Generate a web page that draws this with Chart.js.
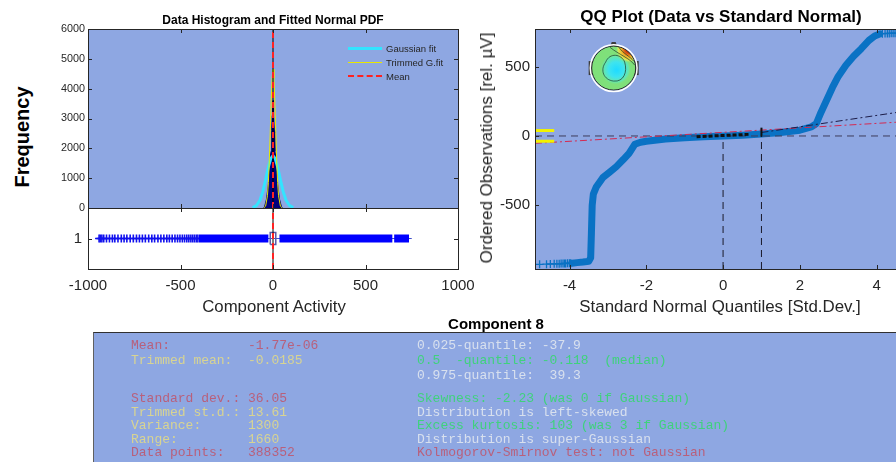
<!DOCTYPE html>
<html>
<head>
<meta charset="utf-8">
<script src="https://cdn.jsdelivr.net/npm/chart.js"></script>
<style>
  body { margin: 0; width: 896px; height: 462px; overflow: hidden; background: #fff; position: relative;
         font-family: "Liberation Sans", Arial, sans-serif; color: #262626; }
  canvas { position: absolute; }
  .t { position: absolute; white-space: nowrap; transform: translate(-50%, -50%); }
  .rot { transform: translate(-50%, -50%) rotate(-90deg); }
  .legend { position: absolute; left: 348px; top: 41px; font-size: 9.5px; color: #262626; }
  .legend div { height: 14px; display: flex; align-items: center; }
  .legend i { display: inline-block; width: 34px; margin-right: 4px; }
  .stats { position: absolute; left: 93px; top: 332px; width: 820px; height: 140px; background: #8ea7e2;
           border-top: 1px solid #303030; border-left: 1px solid #606060; }
  .stats div { position: absolute; white-space: pre; font-family: "Liberation Mono", "Courier New", monospace;
               font-size: 13px; line-height: 14px; }
  .red { color: #b8607c; }
  .yel { color: #d8d492; }
  .lt { color: #d8e0ee; }
  .grn { color: #3fd27c; }
</style>
</head>
<body>

<canvas id="hist" width="430" height="190" style="left:40px; top:24px;"></canvas>
<canvas id="box" width="460" height="110" style="left:40px; top:208px;"></canvas>
<canvas id="qq" width="440" height="294" style="left:470px; top:24px;"></canvas>

<div class="t" style="left:273px; top:20px; font-weight:bold; font-size:12px; color:#000;">Data Histogram and Fitted Normal PDF</div>
<div class="t rot" style="left:22px; top:137px; font-weight:bold; font-size:20px; color:#000;">Frequency</div>
<div class="t" style="left:274px; top:307px; font-size:16.8px;">Component Activity</div>

<div class="t" style="left:721px; top:17px; font-weight:bold; font-size:17px; color:#000;">QQ Plot (Data vs Standard Normal)</div>
<div class="t rot" style="left:487px; top:148px; font-size:17px;">Ordered Observations [rel. µV]</div>
<div class="t" style="left:720px; top:307px; font-size:16.9px;">Standard Normal Quantiles [Std.Dev.]</div>

<div class="legend">
  <div><i style="border-top:3px solid #33e4ff;"></i>Gaussian fit</div>
  <div><i style="border-top:1px solid #e8e800;"></i>Trimmed G.fit</div>
  <div><i style="border-top:2px dashed #ff2020;"></i>Mean</div>
</div>

<div class="t" style="left:496px; top:323px; font-weight:bold; font-size:15px; color:#000;">Component 8</div>

<div class="stats">
  <div class="red" style="left:37px; top:6px;">Mean:          -1.77e-06</div>
  <div class="yel" style="left:37px; top:21px;">Trimmed mean:  -0.0185</div>
  <div class="red" style="left:37px; top:59px;">Standard dev.: 36.05</div>
  <div class="yel" style="left:37px; top:73px;">Trimmed st.d.: 13.61</div>
  <div class="yel" style="left:37px; top:86px;">Variance:      1300</div>
  <div class="yel" style="left:37px; top:100px;">Range:         1660</div>
  <div class="red" style="left:37px; top:113px;">Data points:   388352</div>

  <div class="lt"  style="left:323px; top:6px;">0.025-quantile: -37.9</div>
  <div class="grn" style="left:323px; top:21px;">0.5  -quantile: -0.118  (median)</div>
  <div class="lt"  style="left:323px; top:36px;">0.975-quantile:  39.3</div>
  <div class="grn" style="left:323px; top:59px;">Skewness: -2.23 (was 0 if Gaussian)</div>
  <div class="lt"  style="left:323px; top:73px;">Distribution is left-skewed</div>
  <div class="grn" style="left:323px; top:86px;">Excess kurtosis: 103 (was 3 if Gaussian)</div>
  <div class="lt"  style="left:323px; top:100px;">Distribution is super-Gaussian</div>
  <div class="red" style="left:323px; top:113px;">Kolmogorov-Smirnov test: not Gaussian</div>
</div>

<script>
// ---- histogram panel ----
const activityTicks = [-1000, -500, 0, 500, 1000];
const freqTicks = [0, 1000, 2000, 3000, 4000, 5000, 6000];

const histX = [-50, -45, -35, -25, -16, -10, -7, -4, -2, 0, 2, 4, 7, 10, 16, 25, 35, 45, 50];
const histY = [0, 60, 300, 800, 1700, 1900, 2600, 3100, 3400, 3600, 3400, 3100, 2600, 1900, 1700, 800, 300, 60, 0];

const gaussX = [-110, -90, -70, -55, -40, -25, -12, 0, 12, 25, 40, 55, 70, 90, 110];
const gaussY = [17, 77, 266, 547, 946, 1376, 1655, 1750, 1655, 1376, 946, 547, 266, 77, 17];

const trimX = [-50, -40, -30, -25, -20, -15, -10, -5, 0, 5, 10, 15, 20, 25, 30, 40, 50];
const trimY = [2, 60, 410, 860, 1580, 2530, 3550, 4350, 4650, 4350, 3550, 2530, 1580, 860, 410, 60, 2];

const meanValue = -1.77e-6;

// ---- box strip ----
const boxTicks = [1];
const whiskerX = [-960, 750];
const denseLowX = [-400, -25];
const denseHighX = [35, 645];
const denseTopX = [655, 735];
const sparseLowX = [-940, -933, -925, -915, -900, -884, -868, -855, -838, -820, -805, -790, -772, -755, -738, -722,
                    -706, -690, -672, -655, -640, -622, -606, -590, -574, -560, -545, -530, -516, -503, -490, -478,
                    -466, -455, -444, -434, -424, -414, -406];
const boxX = [-15, 15];
const boxY = [0.9, 1.1];

// ---- QQ panel ----
const quantTicks = [-4, -2, 0, 2, 4];
const obsTicks = [-500, 0, 500];

const qqX = [-3.94, -3.8, -3.65, -3.5, -3.45, -3.43, -3.41, -3.38, -3.3, -3.13, -2.95, -2.78, -2.6, -2.45, -2.3, -2.15,
             -2.0, -1.5, -1.0, -0.5, 0, 0.5, 1.0, 1.5, 2.0, 2.3, 2.43, 2.55, 2.7, 2.85, 3.0, 3.2, 3.4, 3.6, 3.8, 3.95, 4.08];
const qqY = [-918, -914, -910, -905, -880, -700, -500, -420, -366, -300, -260, -221, -170, -125, -60, -45,
             -38, -22, -12, -5, 0, 6, 14, 25, 42, 65, 90, 170, 260, 350, 430, 510, 575, 630, 690, 722, 736];

const qqLowX = [-4.78, -4.6, -4.5, -4.4, -4.33, -4.27, -4.22, -4.17, -4.13, -4.1, -4.05, -4.0, -3.97];
const qqLowY = [-926, -925, -924, -923, -922, -922, -921, -921, -920, -920, -919, -919, -918];
const qqHighX = [4.15, 4.22, 4.28, 4.33, 4.38, 4.43, 4.48, 4.55, 4.65, 4.8];
const qqHighY = [738, 739, 740, 740, 741, 741, 742, 742, 743, 744];

const quartileLineX = [-0.69, 0.7];
const quartileLineY = [-5, 12];
const stdLineX = [1.0, 4.87];
const stdLineY = [25, 184];
const trimLineX = [-4.9, 4.87];
const trimLineY = [-53, 105];
const lowQuantile = -37.9;
const highQuantile = 39.3;

const pts = (xs, ys) => xs.map((x, i) => ({ x, y: ys[i] }));
const hline = (xs, y) => xs.map(x => ({ x, y }));
const vline = (x, ys) => ys.map(y => ({ x, y }));

const BG = '#8ea7e2';
const AXIS = '#262626';
const FONT = '"Liberation Sans", Arial, sans-serif';

// fills the plotting area
const areaFill = {
  id: 'areaFill',
  beforeDraw(chart, args, opts) {
    const { ctx, chartArea: a } = chart;
    ctx.save();
    ctx.fillStyle = opts.color;
    ctx.fillRect(a.left, a.top, a.width, a.height);
    ctx.restore();
  }
};

// box around the axes with short inward tick marks
const frameTicks = {
  id: 'frameTicks',
  afterDraw(chart, args, opts) {
    const { ctx, chartArea: a, scales } = chart;
    const len = 4;
    ctx.save();
    ctx.strokeStyle = AXIS;
    ctx.lineWidth = 1;
    ctx.beginPath();
    (opts.x || []).forEach(v => {
      const px = Math.round(scales.x.getPixelForValue(v)) + 0.5;
      ctx.moveTo(px, a.bottom); ctx.lineTo(px, a.bottom - len);
      ctx.moveTo(px, a.top); ctx.lineTo(px, a.top + len);
    });
    (opts.y || []).forEach(v => {
      const py = Math.round(scales.y.getPixelForValue(v)) + 0.5;
      ctx.moveTo(a.left, py); ctx.lineTo(a.left + len, py);
      ctx.moveTo(a.right, py); ctx.lineTo(a.right - len, py);
    });
    ctx.stroke();
    ctx.strokeRect(Math.round(a.left) + 0.5, Math.round(a.top) + 0.5, Math.round(a.width), Math.round(a.height));
    ctx.restore();
  }
};

// small scalp map inset
const headInset = {
  id: 'headInset',
  afterDatasetsDraw(chart, args, opts) {
    const { ctx, scales } = chart;
    const cx = scales.x.getPixelForValue(opts.x);
    const cy = scales.y.getPixelForValue(opts.y);
    const r = opts.r;
    ctx.save();
    ctx.fillStyle = '#3b3b3b';
    ctx.fillRect(cx - r - 3, cy - 7, 4, 14);
    ctx.fillRect(cx + r - 1, cy - 7, 4, 14);
    ctx.beginPath();
    ctx.moveTo(cx - 4, cy - r + 2); ctx.lineTo(cx - 2, cy - r - 4); ctx.lineTo(cx + 2, cy - r - 4); ctx.lineTo(cx + 4, cy - r + 2);
    ctx.closePath(); ctx.fill();

    ctx.save();
    ctx.beginPath(); ctx.arc(cx, cy, r, 0, Math.PI * 2); ctx.clip();
    ctx.fillStyle = '#7fe07a';
    ctx.fillRect(cx - r, cy - r, 2 * r, 2 * r);
    let g = ctx.createRadialGradient(cx + 3, cy + 2, 1, cx + 2, cy + 1, r * 0.72);
    g.addColorStop(0, '#22dcff'); g.addColorStop(0.45, '#3fe4ee'); g.addColorStop(0.8, '#68e6a8');
    g.addColorStop(1, 'rgba(127,224,122,0)');
    ctx.fillStyle = g;
    ctx.fillRect(cx - r, cy - r, 2 * r, 2 * r);
    g = ctx.createRadialGradient(cx + r * 0.7, cy - r * 0.85, 0, cx + r * 0.7, cy - r * 0.85, r * 0.62);
    g.addColorStop(0, '#a01400'); g.addColorStop(0.3, '#d84a10'); g.addColorStop(0.55, '#f0b428');
    g.addColorStop(0.8, '#d8e85a'); g.addColorStop(1, 'rgba(127,224,122,0)');
    ctx.fillStyle = g;
    ctx.fillRect(cx - r, cy - r, 2 * r, 2 * r);
    ctx.strokeStyle = '#1e3a2a';
    ctx.lineWidth = 0.7;
    ctx.beginPath();
    ctx.moveTo(cx - 8, cy - 6);
    ctx.bezierCurveTo(cx - 4, cy - 16, cx + 8, cy - 14, cx + 11, cy - 6);
    ctx.bezierCurveTo(cx + 14, cy + 4, cx + 10, cy + 14, cx, cy + 13);
    ctx.bezierCurveTo(cx - 10, cy + 12, cx - 14, cy + 2, cx - 8, cy - 6);
    ctx.stroke();
    ctx.beginPath();
    ctx.moveTo(cx - 4, cy - r + 1);
    ctx.bezierCurveTo(cx + 6, cy - 13, cx + 16, cy - 10, cx + r - 1, cy - 3);
    ctx.stroke();
    ctx.beginPath();
    ctx.moveTo(cx + 5, cy - r + 1);
    ctx.bezierCurveTo(cx + 10, cy - 14, cx + 16, cy - 12, cx + r - 2, cy - 7);
    ctx.stroke();
    ctx.restore();

    ctx.beginPath(); ctx.arc(cx, cy, r, 0, Math.PI * 2);
    ctx.strokeStyle = '#2a2a2a'; ctx.lineWidth = 1; ctx.stroke();
    ctx.beginPath(); ctx.arc(cx, cy, r + 1.4, 0, Math.PI * 2);
    ctx.strokeStyle = '#ffffff'; ctx.lineWidth = 1.5; ctx.stroke();
    ctx.restore();
  }
};

Chart.defaults.font.family = FONT;
Chart.defaults.color = AXIS;

const line = (data, color, width, extra) => Object.assign({
  data, showLine: true, borderColor: color, borderWidth: width, pointRadius: 0, fill: false, tension: 0
}, extra || {});

const fixedTicks = list => s => { s.ticks = list.map(value => ({ value })); };
const label = v => String(v);
// pin an axis to a fixed thickness and stop it from padding the plot area
const fixSize = (prop, size) => s => {
  s[prop] = size;
  s.paddingLeft = 0; s.paddingRight = 0; s.paddingTop = 0; s.paddingBottom = 0;
};
const noGrid = { display: false, drawTicks: false };
const pad = (top, right, bottom) => ({ autoPadding: false, padding: { top, right, bottom, left: 0 } });

// histogram with fitted curves
new Chart(document.getElementById('hist'), {
  type: 'scatter',
  data: {
    datasets: [
      line(vline(meanValue, [0, 6000]), '#ff2222', 2, { borderDash: [6, 4], order: 0 }),
      line(vline(0, [0, 6000]), '#000000', 1, { order: 1 }),
      line(pts(trimX, trimY), '#e8e800', 1, { order: 2 }),
      line(pts(gaussX, gaussY), '#33e4ff', 3, { order: 3 }),
      line(pts(histX, histY), '#000066', 1, { backgroundColor: '#00007e', fill: 'origin', order: 4 })
    ]
  },
  options: {
    responsive: false, animation: false, events: [],
    layout: pad(5, 12, 6),
    plugins: {
      legend: { display: false }, tooltip: { enabled: false },
      areaFill: { color: BG },
      frameTicks: { x: activityTicks, y: freqTicks }
    },
    scales: {
      x: { type: 'linear', min: -1000, max: 1000, display: false },
      y: {
        min: 0, max: 6000,
        afterBuildTicks: fixedTicks(freqTicks),
        afterFit: fixSize('width', 48),
        grid: noGrid, border: { display: false },
        ticks: { callback: label, padding: 3, font: { size: 10.8 }, color: AXIS }
      }
    }
  },
  plugins: [areaFill, frameTicks]
});

// box strip under the histogram
new Chart(document.getElementById('box'), {
  type: 'scatter',
  data: {
    datasets: [
      line(vline(meanValue, [0.5, 1.5]), '#ff2222', 2, { borderDash: [6, 4], order: 0 }),
      line(vline(0, [0.5, 1.5]), '#000000', 1, { order: 1 }),
      line([{ x: boxX[0], y: boxY[0] }, { x: boxX[1], y: boxY[0] }, { x: boxX[1], y: boxY[1] },
            { x: boxX[0], y: boxY[1] }, { x: boxX[0], y: boxY[0] }], '#5a5aa8', 1.5,
           { backgroundColor: '#7a5a9a', fill: true, order: 2 }),
      line(hline(denseLowX, 1), '#0000ff', 8, { order: 3 }),
      line(hline(denseHighX, 1), '#0000ff', 8, { order: 3 }),
      line(hline(denseTopX, 1), '#0000ff', 8, { order: 3 }),
      { data: hline(sparseLowX, 1), pointStyle: 'cross', pointRadius: 4, borderColor: '#1010ee',
        borderWidth: 1.6, order: 4 },
      line(hline(whiskerX, 1), '#4050c8', 1, { order: 5 })
    ]
  },
  options: {
    responsive: false, animation: false, events: [],
    layout: pad(0, 42, 0),
    plugins: {
      legend: { display: false }, tooltip: { enabled: false },
      areaFill: { color: '#ffffff' },
      frameTicks: { x: activityTicks, y: boxTicks }
    },
    scales: {
      x: {
        type: 'linear', min: -1000, max: 1000,
        afterBuildTicks: fixedTicks(activityTicks),
        afterFit: fixSize('height', 49),
        grid: noGrid, border: { display: false },
        ticks: { callback: label, padding: 8, font: { size: 15 }, color: AXIS, maxRotation: 0 }
      },
      y: {
        min: 0.5, max: 1.5,
        afterBuildTicks: fixedTicks(boxTicks),
        afterFit: fixSize('width', 48),
        grid: noGrid, border: { display: false },
        ticks: { callback: label, padding: 6, font: { size: 15 }, color: AXIS }
      }
    }
  },
  plugins: [areaFill, frameTicks]
});

// quantile-quantile plot
new Chart(document.getElementById('qq'), {
  type: 'scatter',
  data: {
    datasets: [
      line(hline([-4.9, -4.4], highQuantile), '#f2f200', 3, { order: 0 }),
      line(hline([-4.9, -4.4], lowQuantile), '#f2f200', 3, { order: 0 }),
      line(vline(1, [-5, 60]), '#111111', 2, { order: 0 }),
      line(pts(quartileLineX, quartileLineY), '#111111', 3, { borderDash: [4, 2], order: 0 }),
      line(vline(0, [-960, 0]), '#1a1a2a', 1, { borderDash: [7, 5], order: 1 }),
      line(vline(1, [-960, 14]), '#1a1a2a', 1, { borderDash: [7, 5], order: 1 }),
      line(pts(stdLineX, stdLineY), '#1c1c48', 1, { borderDash: [7, 3, 2, 3], order: 1 }),
      line(pts(trimLineX, trimLineY), '#d42a52', 1, { borderDash: [7, 3, 2, 3], order: 1 }),
      line(hline([-4.9, 4.87], 0), '#3d3d5c', 1, { borderDash: [7, 5], order: 1 }),
      { data: pts(qqLowX, qqLowY), pointStyle: 'cross', pointRadius: 4, borderColor: '#0a72c4',
        borderWidth: 1.3, order: 2 },
      { data: pts(qqHighX, qqHighY), pointStyle: 'cross', pointRadius: 4, borderColor: '#0a72c4',
        borderWidth: 1.3, order: 2 },
      line(pts(qqX, qqY), '#0a72c4', 7, { order: 3, borderJoinStyle: 'round', borderCapStyle: 'round' })
    ]
  },
  options: {
    responsive: false, animation: false, events: [],
    layout: pad(5, 0, 0),
    plugins: {
      legend: { display: false }, tooltip: { enabled: false },
      areaFill: { color: BG },
      frameTicks: { x: quantTicks, y: obsTicks },
      headInset: { x: -2.85, y: 490, r: 22 }
    },
    scales: {
      x: {
        type: 'linear', min: -4.9, max: 4.87,
        afterBuildTicks: fixedTicks(quantTicks),
        afterFit: fixSize('height', 49),
        grid: noGrid, border: { display: false },
        ticks: { callback: label, padding: 8, font: { size: 15 }, color: AXIS, maxRotation: 0 }
      },
      y: {
        min: -960, max: 772,
        afterBuildTicks: fixedTicks(obsTicks),
        afterFit: fixSize('width', 65),
        grid: noGrid, border: { display: false },
        ticks: { callback: label, padding: 5, font: { size: 15 }, color: AXIS }
      }
    }
  },
  plugins: [areaFill, frameTicks, headInset]
});
</script>
</body>
</html>
